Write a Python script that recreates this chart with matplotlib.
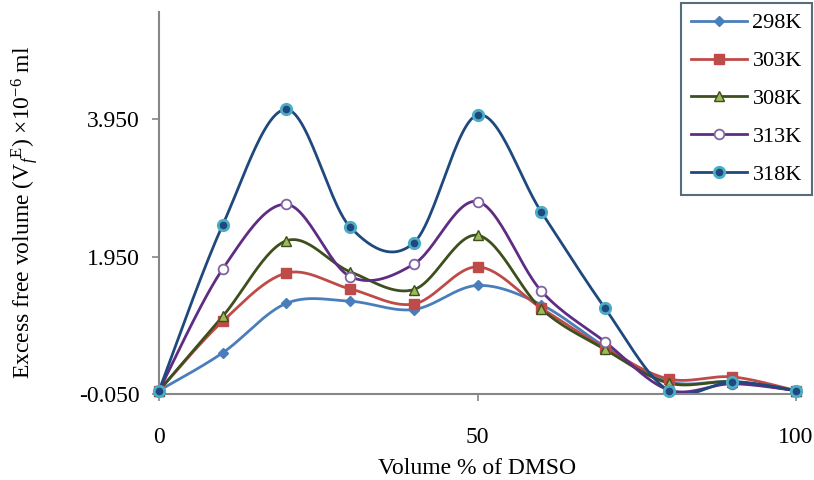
import numpy as np
import matplotlib
matplotlib.use("Agg")
import matplotlib.pyplot as plt
from matplotlib.lines import Line2D

plt.rcParams['font.family'] = ['Liberation Serif', 'DejaVu Serif']
plt.rcParams['mathtext.fontset'] = 'custom'
plt.rcParams['mathtext.rm'] = 'Liberation Serif'
plt.rcParams['mathtext.it'] = 'Liberation Serif:italic'

x = [0, 10, 20, 30, 40, 50, 60, 70, 80, 90, 100]
v298 = [0, 0.55, 1.27, 1.30, 1.18, 1.53, 1.25, 0.64, 0.13, 0.13, 0]
v303 = [0, 1.01, 1.71, 1.48, 1.26, 1.80, 1.20, 0.62, 0.17, 0.20, 0]
v308 = [0, 1.08, 2.18, 1.73, 1.47, 2.26, 1.19, 0.60, 0.11, 0.13, 0]
v313 = [0, 1.77, 2.71, 1.66, 1.84, 2.75, 1.45, 0.71, 0.01, 0.10, 0]
v318 = [0, 2.41, 4.09, 2.38, 2.15, 4.01, 2.60, 1.20, 0.00, 0.13, 0]
labels = ['298K', '303K', '308K', '313K', '318K']
yticks = [-0.05, 1.95, 3.95]
xticks = [0, 50, 100]

styles = [
    dict(color='#4a7ebb', marker='D', mfc='#4a7ebb', mec='#4a7ebb', ms=5, mew=1),
    dict(color='#be4b48', marker='s', mfc='#be4b48', mec='#be4b48', ms=7.5, mew=1),
    dict(color='#3d4f1c', marker='^', mfc='#9bbb59', mec='#3d4f1c', ms=7, mew=1),
    dict(color='#5f2c84', marker='o', mfc='white', mec='#8064a2', ms=7, mew=1.3),
    dict(color='#1f497d', marker='o', mfc='#1f497d', mec='#4bacc6', ms=7.5, mew=2),
]


def smooth(xs, ys, n=30):
    P = np.column_stack([xs, ys]).astype(float)
    out = [P[0]]
    m = len(P)
    for i in range(m - 1):
        p0 = P[i - 1] if i > 0 else P[i]
        p1 = P[i]
        p2 = P[i + 1]
        p3 = P[i + 2] if i + 2 < m else P[i + 1]
        c1 = p1 + (p2 - p0) / 6.0
        c2 = p2 - (p3 - p1) / 6.0
        t = np.linspace(0, 1, n)[1:, None]
        seg = ((1 - t) ** 3) * p1 + 3 * ((1 - t) ** 2) * t * c1 + 3 * (1 - t) * t ** 2 * c2 + t ** 3 * p2
        out.extend(seg)
    out = np.array(out)
    return out[:, 0], out[:, 1]


fig = plt.figure(figsize=(8.14, 4.8), dpi=100)
ax = fig.add_axes([0.1953, 0.179, 0.7827, 0.795])

series = [v298, v303, v308, v313, v318]
handles = []
for ys, st, lab in zip(series, styles, labels):
    sx, sy = smooth(x, ys)
    ax.plot(sx, sy, color=st['color'], lw=2, zorder=2)
    ax.plot(x, ys, linestyle='none', marker=st['marker'], mfc=st['mfc'], mec=st['mec'],
            ms=st['ms'], mew=st['mew'], zorder=3, clip_on=False)
    handles.append(Line2D([], [], color=st['color'], lw=2, marker=st['marker'], mfc=st['mfc'],
                          mec=st['mec'], ms=st['ms'], mew=st['mew']))

ax.set_xlim(0, 100)
ax.set_ylim(-0.05, 5.5)
ax.set_xticks(xticks)
ax.set_xticklabels([str(v) for v in xticks])
ax.set_yticks(yticks)
ax.set_yticklabels(['%.3f' % v for v in yticks])
for s in ['top', 'right']:
    ax.spines[s].set_visible(False)
for s in ['left', 'bottom']:
    ax.spines[s].set_color('#868686')
    ax.spines[s].set_linewidth(1.5)
ax.tick_params(axis='both', colors='#868686', length=5, width=1.2, labelsize=17,
               labelcolor='black')
ax.tick_params(axis='x', pad=19)
ax.tick_params(axis='y', pad=9)
ax.set_xlabel('Volume % of DMSO', fontsize=17, labelpad=7)
ax.set_ylabel(r'Excess free volume (V$_{\mathit{f}}$$^{\mathrm{E}}$) ×10$^{-6}$ ml', fontsize=17)
ax.yaxis.set_label_coords(-0.187, 0.477)

leg = fig.legend(handles, labels, loc='upper right', bbox_to_anchor=(0.9975, 0.994),
                 borderaxespad=0, fontsize=16, frameon=True, fancybox=False, handlelength=2.5,
                 labelspacing=0.78, borderpad=0.45, handletextpad=0.25)
leg.get_frame().set_edgecolor('#2a4a5a')
leg.get_frame().set_linewidth(1.5)

fig.savefig('out.png', dpi=100)
